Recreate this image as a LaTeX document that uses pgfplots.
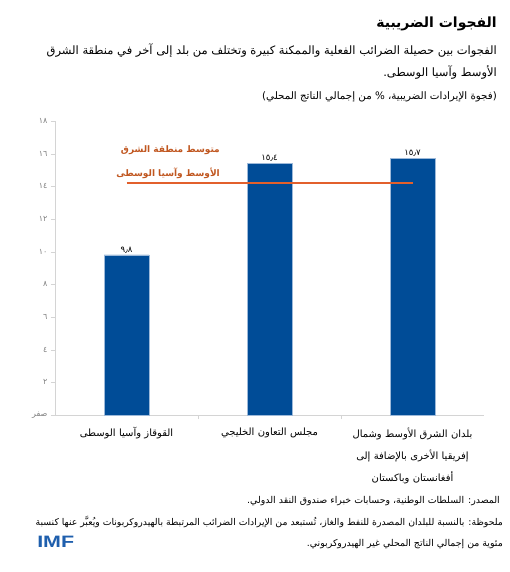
\documentclass[border=0pt]{standalone}
\usepackage{pgfplots}
\pgfplotsset{compat=1.18}
\usepackage{fontspec}
\setmainfont{Liberation Sans}
\newfontfamily\arabicfont[Script=Arabic]{DejaVu Sans}
\TeXXeTstate=1
\definecolor{barblue}{HTML}{004C97}
\definecolor{baredge}{HTML}{9DB9D9}
\definecolor{avgline}{HTML}{E2602C}
\definecolor{avgtext}{HTML}{C0561F}
\definecolor{tickgray}{HTML}{7F7F7F}
\definecolor{axisgray}{HTML}{D4D4D4}
\definecolor{imfblue}{HTML}{1F5FAD}

\begin{document}
\begin{tikzpicture}
\path[use as bounding box] (0,0) rectangle (509pt,-572pt);

% heading
\node[anchor=base east, inner sep=0pt] at (497pt,-28pt)
  {\arabicfont\bfseries\fontsize{14}{16}\selectfont\beginR الفجوات الضريبية\endR};
\node[anchor=base east, inner sep=0pt] at (497pt,-55pt)
  {\arabicfont\fontsize{11.5}{13}\selectfont\beginR الفجوات بين حصيلة الضرائب الفعلية والممكنة كبيرة وتختلف من بلد إلى آخر في منطقة الشرق\endR};
\node[anchor=base east, inner sep=0pt] at (497pt,-77pt)
  {\arabicfont\fontsize{11.5}{13}\selectfont\beginR الأوسط وآسيا الوسطى.\endR};
\node[anchor=base east, inner sep=0pt] at (497pt,-100pt)
  {\arabicfont\fontsize{10.3}{12}\selectfont\beginR (فجوة الإيرادات الضريبية، \% من إجمالي الناتج المحلي)\endR};

\begin{axis}[
  at={(55pt,-415pt)}, anchor=south west,
  scale only axis,
  width=429pt, height=294pt,
  xmin=-0.5, xmax=2.5,
  ymin=0, ymax=18,
  axis x line=bottom, axis y line=left,
  axis line style={-, draw=axisgray, line width=0.8pt},
  tick align=outside,
  major tick length=4pt,
  ytick={0,2,...,18},
  yticklabels={صفر,٢,٤,٦,٨,١٠,١٢,١٤,١٦,١٨},
  yticklabel style={font=\arabicfont\fontsize{8}{9}\selectfont, text=tickgray},
  ytick style={draw=axisgray},
  xtick={0.5,1.5},
  xticklabels={},
  xtick style={draw=axisgray},
  extra x ticks={0,1,2},
  extra x tick labels={
    {\beginR القوقاز وآسيا الوسطى\endR},
    {\beginR مجلس التعاون الخليجي\endR},
    {\beginR بلدان الشرق الأوسط وشمال\endR\\\beginR إفريقيا الأخرى بالإضافة إلى\endR\\\beginR أفغانستان وباكستان\endR}},
  extra x tick style={major tick length=0pt,
    tick label style={font=\arabicfont\fontsize{10}{22}\selectfont, align=center,
      text width=140pt, anchor=north, yshift=-9pt}},
  clip=false,
]
\addplot[ybar, bar width=45pt, fill=barblue, draw=baredge, line width=0.6pt,
  point meta=explicit symbolic,
  nodes near coords,
  nodes near coords style={font=\arabicfont\fontsize{8.5}{9}\selectfont, text=black, inner sep=1.5pt}]
  coordinates {(0,9.8) [٩٫٨] (1,15.4) [١٥٫٤] (2,15.7) [١٥٫٧]};
\addplot[draw=avgline, line width=1.6pt, mark=none] coordinates {(0,14.2) (2,14.2)};
\node[anchor=east, inner sep=0pt, text=avgtext] at (axis cs:0.654,16.2)
  {\arabicfont\bfseries\fontsize{9}{11}\selectfont\beginR متوسط منطقة الشرق\endR};
\node[anchor=east, inner sep=0pt, text=avgtext] at (axis cs:0.654,14.8)
  {\arabicfont\bfseries\fontsize{9}{11}\selectfont\beginR الأوسط وآسيا الوسطى\endR};
\end{axis}

% source and note
\node[anchor=base east, inner sep=0pt] at (500pt,-503pt)
  {\arabicfont\fontsize{9.4}{11}\selectfont\beginR المصدر: السلطات الوطنية، وحسابات خبراء صندوق النقد الدولي.\endR};
\node[anchor=base east, inner sep=0pt] at (503pt,-525pt)
  {\arabicfont\fontsize{9.3}{11}\selectfont\beginR ملحوظة: بالنسبة للبلدان المصدرة للنفط والغاز، تُستبعد من الإيرادات الضرائب المرتبطة بالهيدروكربونات ويُعبَّر عنها كنسبة\endR};
\node[anchor=base east, inner sep=0pt] at (503pt,-546pt)
  {\arabicfont\fontsize{9.4}{11}\selectfont\beginR مئوية من إجمالي الناتج المحلي غير الهيدروكربوني.\endR};
\node[anchor=base west, inner sep=0pt, text=imfblue, xscale=1.3, transform shape] at (37pt,-547pt)
  {\bfseries\fontsize{16.5}{17}\selectfont IMF};
\end{tikzpicture}
\end{document}
